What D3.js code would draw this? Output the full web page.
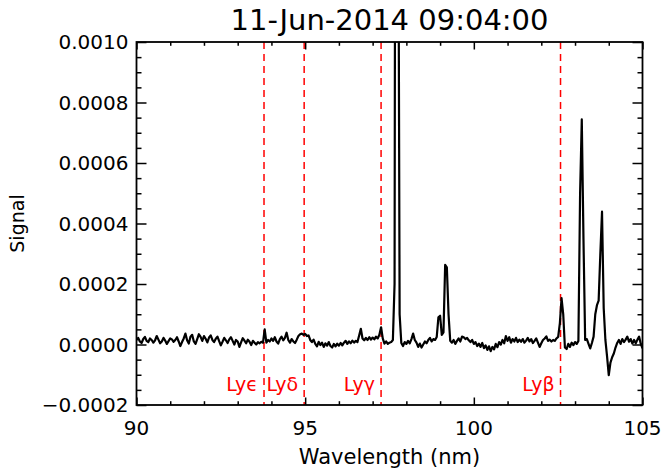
<!DOCTYPE html>
<html><head><meta charset="utf-8">
<script src="https://cdn.jsdelivr.net/npm/d3@7"></script>
<style>
body{margin:0;background:#fff}
svg{display:block}
text{font-family:"DejaVu Sans",sans-serif}
</style>
</head><body>
<svg id="chart" width="663" height="472"></svg>
<script>
// ---------------- data ----------------
const chartTitle = "11-Jun-2014 09:04:00";
const xLabel = "Wavelength (nm)";
const yLabel = "Signal";
const wavelengthStart = 90.0;   // nm, first sample
const wavelengthStep = 0.05;    // nm, sampling interval
// Signal in units of 1e-5, one value per sample (90.00 ... 105.00 nm)
const signalE5 = [
  // 90.00 - 93.75
  1.5, 2.2, 1.0, 0.5, 1.8, 2.5, 1.2, 0.8, 2.0, 1.5,
  0.6, 1.4, 2.8, 1.6, 0.4, 1.0, 2.2, 1.3, 0.2, 1.1,
  2.0, 1.7, 0.9, 1.5, 2.4, 1.0, -0.5, 0.8, 2.0, 3.6,
  1.4, 0.3, 2.6, 3.2, 1.0, 0.2, 1.8, 3.4, 2.5, 1.2,
  2.8, 1.9, 0.7, 2.3, 3.0, 1.5, 0.8, 1.9, 2.6, 1.1,
  -0.3, 0.9, 2.2, 1.4, 0.5, 1.7, 2.4, 1.2, 0.0, 1.5,
  1.0, -0.8, 0.7, 2.1, 1.3, 0.4, 1.6, 0.9, -0.2, 1.2,
  0.6, 0.0, 0.8, 0.4, 0.9, 0.6,
  // 93.80 (Ly epsilon)
  5.0,
  // 93.85 - 95.00
  0.6, 1.5, 1.0, 2.0, 1.2, 2.4, 1.0, 0.3, 1.8, 2.6,
  1.4, 2.2, 3.9, 1.5, 0.6, 1.8, 1.0, 0.5, 1.6, 2.8,
  3.4, 3.6, 3.2, 3.5,
  // 95.05 - 97.60
  2.8, 3.0, 1.5, 0.8, 1.6, 0.2, -0.6, 0.9, -0.2, 0.6,
  -0.8, 0.4, -0.4, 0.8, -0.5, -1.0, 0.2, -0.6, 0.3, -0.4,
  0.5, -0.3, 0.6, 1.2, 0.2, 1.0, 0.4, 1.3, 0.6, 1.2,
  0.8, 3.0, 5.2, 2.0, 1.4, 2.2, 1.5, 2.4, 1.6, 2.3,
  1.7, 2.6, 2.0, 3.2, 5.7, 2.0, 0.3, 1.0, 0.2, 0.6,
  0.8, 1.5,
  // 97.65 - 97.80 (C III line, off scale)
  20, 400, 200, 10,
  // 97.85 - 98.80
  0.5, -0.5, 0.8, 0.2, 1.2, 0.4, 1.8, 3.6, 1.5, 0.6,
  -0.8, 0.3, -1.0, 0.0, 1.0, 0.4, 1.5, 2.2, 1.0, 1.8,
  // 98.85 - 99.30
  1.5, 2.5, 9.0, 9.5, 3.2, 4.0, 26.3, 25.5, 10.0, 1.2,
  // 99.35 - 101.35
  0.6, 1.5, 0.2, 1.2, 2.0, 1.0, 2.6, 2.4, 1.8, 2.2,
  1.4, 0.8, 1.5, 0.2, 0.8, -0.5, 0.3, -0.8, 0.5, -1.2,
  -0.3, -1.8, -0.6, -2.2, -0.8, -1.6, 0.2, -0.9, 0.8, 0.0,
  1.5, 0.4, 2.8, 1.2, 2.4, 0.6, 1.8, 1.0, 2.2, 0.8,
  1.6,
  // 101.40 - 102.55
  0.9, 1.8, 0.6, 1.3, 2.2, 1.0, 1.8, 0.5, 1.2, 2.0,
  0.6, -0.8, 0.4, 1.5, 2.0, 2.7, 1.2, 1.6, 1.0, 1.5,
  1.2, 2.0, 2.5, 7.0,
  // 102.60 - 102.75 (Ly beta)
  15.3, 10.0, -1.0, -1.5,
  // 102.80 - 103.10
  0.2, -0.8, 0.6, -0.2, 0.8, 0.2, 1.2,
  // 103.15 - 103.30
  50, 74.4, 35, 1.5,
  // 103.35 - 103.55
  1.8, 0.2, -1.3, 0.5, 2.6,
  // 103.60 - 103.90
  10.0, 13.0, 14.5, 30, 43.9, 12, 1.5,
  // 103.95 - 104.20
  -4.0, -10.1, -6.0, -4.2, -3.0, -1.0,
  // 104.25 - 105.00
  0.5, 1.5, 0.2, 1.8, 0.8, 1.6, 2.6, 0.9, 1.8, 0.3,
  1.5, 0.4, 1.6, 2.6, 0.2, -1.3
];
const lymanLabels = ["Lyϵ", "Lyδ", "Lyγ", "Lyβ"];
const lymanWavelengths = [93.78, 94.97, 97.25, 102.57];
const xDomain = [90, 105];
const yDomain = [-0.0002, 0.0010];
const xMajorTicks = [90, 95, 100, 105];
const xMinorStep = 1;
const yMajorTicks = [-0.0002, 0.0000, 0.0002, 0.0004, 0.0006, 0.0008, 0.0010];
const yMinorStep = 0.00005;

// ---------------- layout ----------------
const L = 136.5, R = 642.5, T = 42, B = 405;
const svg = d3.select("#chart");
const x = d3.scaleLinear().domain(xDomain).range([L, R]);
const y = d3.scaleLinear().domain(yDomain).range([B, T]);

const points = signalE5.map((v, i) => ({ nm: wavelengthStart + i * wavelengthStep, s: v * 1e-5 }));

svg.append("defs").append("clipPath").attr("id", "plotclip")
  .append("rect").attr("x", L).attr("y", T).attr("width", R - L).attr("height", B - T);

// Lyman dashed lines
const ly = svg.append("g");
lymanWavelengths.forEach((w, i) => {
  ly.append("line").attr("x1", x(w)).attr("x2", x(w)).attr("y1", T).attr("y2", B)
    .attr("stroke", "#ff0000").attr("stroke-width", 1.5).attr("stroke-dasharray", "7,5");
  ly.append("text").attr("x", x(w) - 6).attr("y", 391).attr("text-anchor", "end")
    .attr("fill", "#ff0000").attr("font-size", 19).text(lymanLabels[i]);
});

// spectrum
svg.append("path").datum(points)
  .attr("clip-path", "url(#plotclip)")
  .attr("fill", "none").attr("stroke", "#000").attr("stroke-width", 2.2)
  .attr("stroke-linejoin", "round")
  .attr("d", d3.line().x(d => x(d.nm)).y(d => y(d.s)));

// axes (IDL style box, inward ticks on all sides)
const xMinor = d3.range(xDomain[0], xDomain[1] + 1e-9, xMinorStep).filter(v => !xMajorTicks.includes(v));
const yMinor = d3.range(0, Math.round((yDomain[1] - yDomain[0]) / yMinorStep) + 1)
  .map(k => yDomain[0] + k * yMinorStep)
  .filter(v => !yMajorTicks.some(t => Math.abs(t - v) < 1e-9));

function addAxis(axisGen, transform) {
  const g = svg.append("g").attr("transform", transform).call(axisGen);
  g.select(".domain").remove();
  g.selectAll("line").attr("stroke", "#000").attr("stroke-width", 1.5);
  return g;
}
const fmtY = d3.format(".4f");
// bottom
addAxis(d3.axisTop(x).tickValues(xMajorTicks).tickSize(7.5).tickFormat(""), `translate(0,${B})`);
addAxis(d3.axisTop(x).tickValues(xMinor).tickSize(3.8).tickFormat(""), `translate(0,${B})`);
// top
addAxis(d3.axisBottom(x).tickValues(xMajorTicks).tickSize(7.5).tickFormat(""), `translate(0,${T})`);
addAxis(d3.axisBottom(x).tickValues(xMinor).tickSize(3.8).tickFormat(""), `translate(0,${T})`);
// left
addAxis(d3.axisRight(y).tickValues(yMajorTicks).tickSize(10).tickFormat(""), `translate(${L},0)`);
addAxis(d3.axisRight(y).tickValues(yMinor).tickSize(5).tickFormat(""), `translate(${L},0)`);
// right
addAxis(d3.axisLeft(y).tickValues(yMajorTicks).tickSize(10).tickFormat(""), `translate(${R},0)`);
addAxis(d3.axisLeft(y).tickValues(yMinor).tickSize(5).tickFormat(""), `translate(${R},0)`);

// tick labels
const xl = svg.append("g").attr("font-size", 20).attr("text-anchor", "middle");
xMajorTicks.forEach(t => xl.append("text").attr("x", x(t)).attr("y", 435).text(t));
const yl = svg.append("g").attr("font-size", 20).attr("text-anchor", "end");
yMajorTicks.forEach(t => yl.append("text").attr("x", L - 8).attr("y", y(t)).attr("dy", "0.36em").text(fmtY(t)));

// frame
svg.append("rect").attr("x", L).attr("y", T).attr("width", R - L).attr("height", B - T)
  .attr("fill", "none").attr("stroke", "#000").attr("stroke-width", 1.8);

// titles
svg.append("text").attr("x", (L + R) / 2).attr("y", 30).attr("text-anchor", "middle")
  .attr("font-size", 29).text(chartTitle);
svg.append("text").attr("x", (L + R) / 2).attr("y", 464).attr("text-anchor", "middle")
  .attr("font-size", 21).text(xLabel);
svg.append("text").attr("transform", `translate(24,${(T + B) / 2}) rotate(-90)`)
  .attr("text-anchor", "middle").attr("font-size", 19).text(yLabel);
</script>
</body></html>
